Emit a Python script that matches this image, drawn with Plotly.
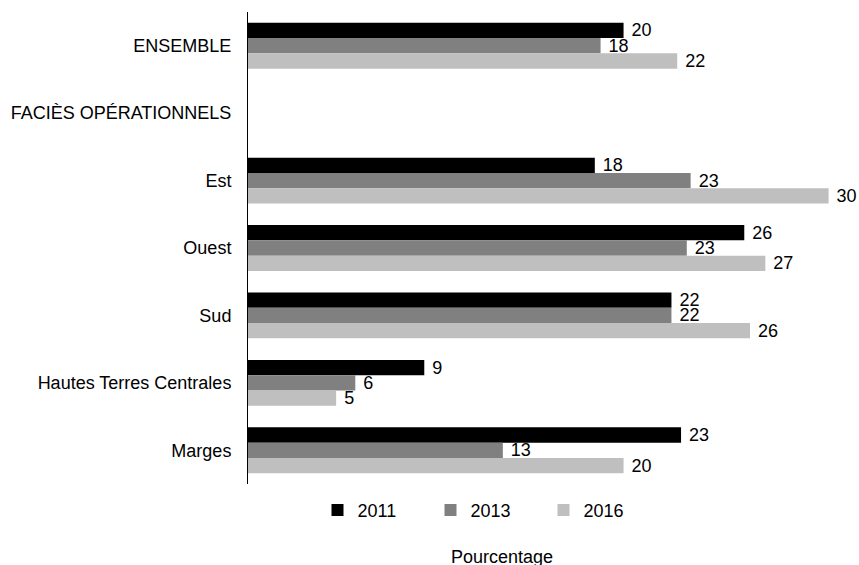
import plotly.graph_objects as go

# categories, top to bottom
categories = ["ENSEMBLE", "FACIÈS OPÉRATIONNELS", "Est", "Ouest", "Sud",
              "Hautes Terres Centrales", "Marges"]
years = ["2011", "2013", "2016"]

# percentages (labels shown rounded)
values_2011 = [19.6, None, 18.1, 25.9, 22.1, 9.2, 22.6]
values_2013 = [18.4, None, 23.1, 22.9, 22.1, 5.6, 13.3]
values_2016 = [22.4, None, 30.3, 27.0, 26.2, 4.6, 19.6]

colors = ["#000000", "#808080", "#bfbfbf"]
FONT = "Liberation Sans, Arial, sans-serif"


def create_fig():
    fig = go.Figure()
    for year, vals, color in zip(years, [values_2011, values_2013, values_2016], colors):
        fig.add_trace(go.Bar(
            y=categories, x=vals, name=year, orientation="h",
            marker=dict(color=color, line=dict(width=0)),
            texttemplate="\u00a0%{x:.0f}", textposition="outside",
            textfont=dict(family=FONT, size=18, color="#000000"),
            constraintext="none", cliponaxis=False,
        ))

    fig.add_annotation(
        text="Pourcentage", xref="paper", yref="paper",
        x=0.4276, y=-0.1547, xanchor="center", yanchor="middle",
        showarrow=False, font=dict(family=FONT, size=18, color="#000000"),
    )

    fig.update_layout(
        width=859, height=565,
        margin=dict(l=248, r=17.35, t=12, b=81, autoexpand=False),
        plot_bgcolor="white", paper_bgcolor="white",
        barmode="group", bargap=0.32, bargroupgap=0,
        font=dict(family=FONT, size=18, color="#000000"),
        legend=dict(orientation="h", x=0.117, xanchor="left", y=-0.0164, yanchor="top",
                    entrywidth=68, entrywidthmode="pixels",
                    font=dict(family=FONT, size=18, color="#000000")),
        xaxis=dict(range=[0, 31], visible=False, showgrid=False, zeroline=False, fixedrange=True),
        yaxis=dict(autorange="reversed", showgrid=False, zeroline=False, showline=True,
                   linecolor="#000000", linewidth=1, ticks="", ticklabelstandoff=12,
                   automargin=False,
                   tickfont=dict(family=FONT, size=18, color="#000000"), fixedrange=True),
    )
    return fig


fig = create_fig()
# drop the default 8px body margin so the figure fills the window exactly
fig.write_html("out.html", config={"displayModeBar": False},
               post_script="document.body.style.margin = '0';")
